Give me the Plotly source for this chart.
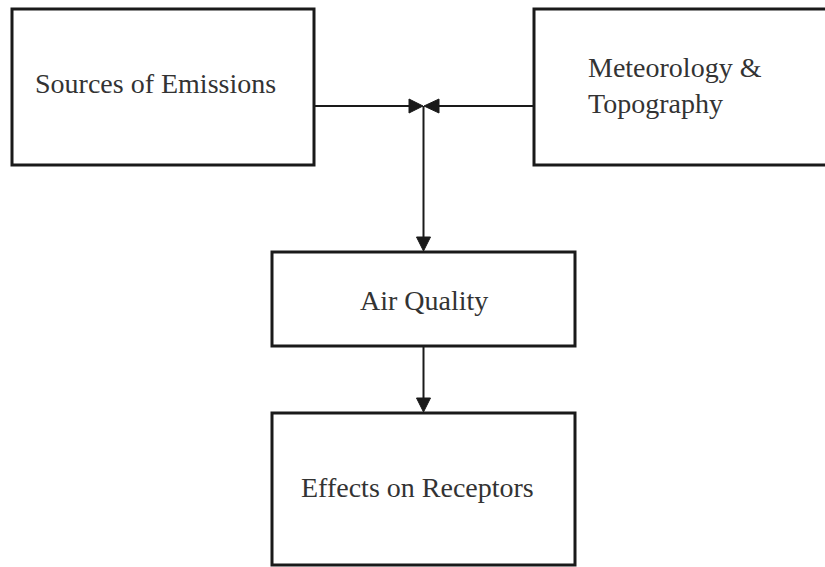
import plotly.graph_objects as go

# ---- diagram data ----
node_names = ["Sources of Emissions", "Meteorology &<br>Topography", "Air Quality", "Effects on Receptors"]
node_x0 = [12, 534, 272, 272]
node_x1 = [314, 830, 575, 575]
node_y0 = [9, 9, 252, 413]
node_y1 = [165, 165, 346, 565]
text_x = [155.5, 586, 424, 417]
text_y = [83.5, 85, 300.5, 487.5]
text_anchor = ["center", "left", "center", "center"]

junction = (423.5, 106)
W, H = 825, 567
fig = go.Figure()

line_col = "#1a1a1a"
text_col = "#333333"

shapes = []
for x0, x1, y0, y1 in zip(node_x0, node_x1, node_y0, node_y1):
    shapes.append(dict(type="rect", xref="x", yref="y", x0=x0, x1=x1, y0=y0, y1=y1,
                       line=dict(color=line_col, width=3), fillcolor="white", layer="below"))

jx, jy = junction
# horizontal connector lines
shapes.append(dict(type="line", x0=node_x1[0], x1=jx - 13, y0=jy, y1=jy, line=dict(color=line_col, width=2)))
shapes.append(dict(type="line", x0=jx + 14, x1=node_x0[1], y0=jy, y1=jy, line=dict(color=line_col, width=2)))
# vertical connectors
shapes.append(dict(type="line", x0=jx, x1=jx, y0=jy, y1=node_y0[2] - 13, line=dict(color=line_col, width=2)))
shapes.append(dict(type="line", x0=jx, x1=jx, y0=node_y1[2], y1=node_y0[3] - 13, line=dict(color=line_col, width=2)))


def tri(tipx, tipy, dx, dy, half=7):
    bx, by = tipx + dx, tipy + dy
    if dx != 0:
        pts = [(tipx, tipy), (bx, by - half), (bx, by + half)]
    else:
        pts = [(tipx, tipy), (bx - half, by), (bx + half, by)]
    p = "M " + " L ".join(f"{x},{y}" for x, y in pts) + " Z"
    return dict(type="path", path=p, fillcolor=line_col, line=dict(color=line_col, width=1))

shapes.append(tri(jx - 0.5, jy, -14, 0))
shapes.append(tri(jx + 0.5, jy, 15, 0))
shapes.append(tri(jx, node_y0[2] - 1, 0, -14))
shapes.append(tri(jx, node_y0[3] - 1, 0, -14))

annotations = []
for name, tx, ty, anc in zip(node_names, text_x, text_y, text_anchor):
    annotations.append(dict(x=tx, y=ty, xref="x", yref="y", text=name, showarrow=False,
                            xanchor=anc, yanchor="middle", align="left",
                            font=dict(family="Liberation Serif", size=28, color=text_col)))

fig.update_layout(
    width=W, height=H, margin=dict(l=0, r=0, t=0, b=0),
    paper_bgcolor="white", plot_bgcolor="white",
    xaxis=dict(range=[0, W], visible=False, fixedrange=True),
    yaxis=dict(range=[H, 0], visible=False, fixedrange=True),
    shapes=shapes, annotations=annotations, showlegend=False,
)
fig.write_html("out.html", config={"displayModeBar": False},
               post_script="document.body.style.margin='0';document.body.style.overflow='hidden';")
